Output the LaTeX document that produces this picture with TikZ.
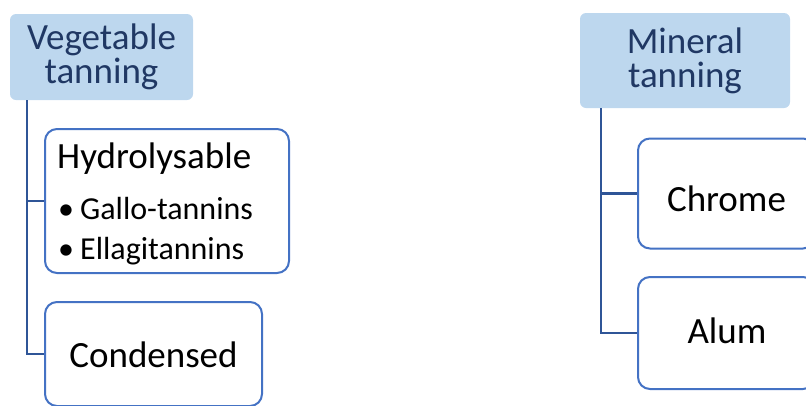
\documentclass[tikz,border=0pt]{standalone}
\usepackage{fontspec}
\setmainfont{Carlito}
\definecolor{parentfill}{RGB}{189,215,238}
\definecolor{parenttext}{RGB}{32,56,100}
\definecolor{childline}{RGB}{68,114,196}
\definecolor{linkline}{RGB}{47,85,151}
\begin{document}
\begin{tikzpicture}[x=1pt,y=-1pt,
  parent/.style={fill=parentfill, rounded corners=6pt, text=parenttext,
    align=center, inner sep=0pt, font=\fontsize{37}{34}\selectfont},
  childbox/.style={draw=childline, line width=2pt, fill=white,
    rounded corners=12pt, inner sep=0pt},
  lbl/.style={inner sep=0pt, font=\fontsize{37}{42}\selectfont, anchor=base},
  item/.style={inner sep=0pt, font=\fontsize{32}{38}\selectfont, anchor=base west},
  link/.style={draw=linkline, line width=2.5pt}]
\useasboundingbox (0,0) rectangle (806,405);
\clip (0,0) rectangle (806,405);

% top-level categories
\node[parent, minimum width=183pt, minimum height=86pt] (veg) at (101.5,57) {Vegetable\\tanning};
\node[parent, minimum width=210pt, minimum height=95pt] (min) at (685,60.5) {Mineral\\tanning};

% child boxes
\node[childbox, minimum width=244pt, minimum height=144pt] (hyd) at (167,201) {};
\node[childbox, minimum width=217pt, minimum height=104pt] (cond) at (153.5,354) {};
\node[childbox, minimum width=177pt, minimum height=110pt] (chrome) at (726.5,193.5) {};
\node[childbox, minimum width=177pt, minimum height=112pt] (alum) at (726.5,333) {};

% connectors
\draw[link] ([xshift=17pt]veg.south west) |- (hyd.west);
\draw[link] ([xshift=17pt]veg.south west) |- (cond.west);
\draw[link] ([xshift=21pt]min.south west) |- (chrome.west);
\draw[link] ([xshift=21pt]min.south west) |- (alum.west);

% child texts
\node[lbl, anchor=base west] (hydt) at (57,168) {Hydrolysable};
\node[item] (b1) at (58,219) {\textbullet};
\node[item] (gallo) at (80,219) {Gallo-tannins};
\node[item] (b2) at (58,259) {\textbullet};
\node[item] (ellag) at (80,259) {Ellagitannins};
\node[lbl] (condt) at (153.5,367) {Condensed};
\node[lbl] (chromet) at (726.5,211) {Chrome};
\node[lbl] (alumt) at (727,343) {Alum};
\end{tikzpicture}
\end{document}
